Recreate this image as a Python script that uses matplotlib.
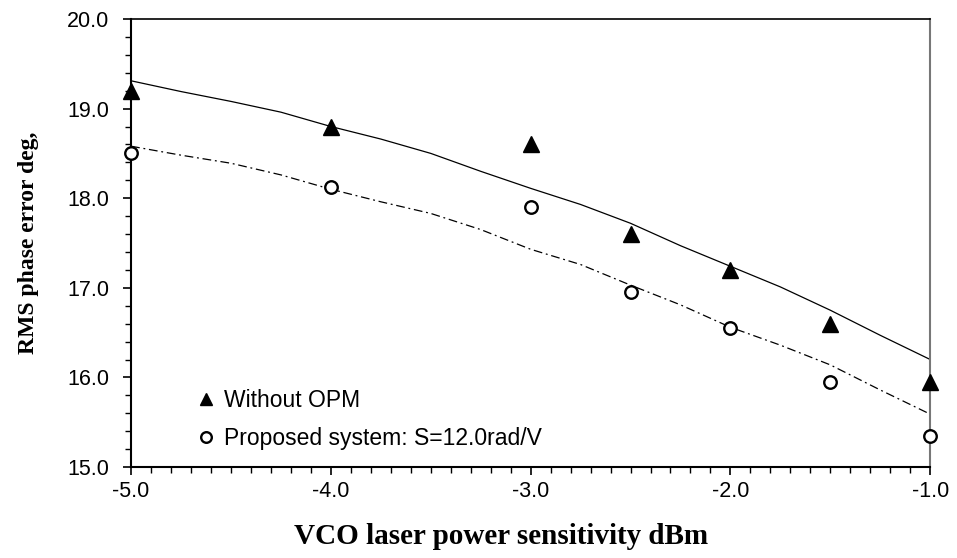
import matplotlib
matplotlib.use("Agg")
import matplotlib.pyplot as plt
from matplotlib.ticker import MultipleLocator, FormatStrFormatter

x_points = [-5.0, -4.0, -3.0, -2.5, -2.0, -1.5, -1.0]
without_opm = [19.2, 18.8, 18.6, 17.6, 17.2, 16.6, 15.95]
proposed = [18.5, 18.12, 17.9, 16.95, 16.55, 15.95, 15.35]

trend_x = [-5.0, -4.75, -4.5, -4.25, -4.0, -3.75, -3.5, -3.25, -3.0,
           -2.75, -2.5, -2.25, -2.0, -1.75, -1.5, -1.25, -1.0]
trend_without = [19.31, 19.19, 19.08, 18.96, 18.80, 18.66, 18.50, 18.30, 18.11,
                 17.93, 17.72, 17.47, 17.24, 17.01, 16.75, 16.47, 16.20]
trend_proposed = [18.58, 18.48, 18.39, 18.26, 18.10, 17.96, 17.83, 17.65, 17.43,
                  17.26, 17.03, 16.81, 16.56, 16.36, 16.14, 15.86, 15.59]

fig = plt.figure(figsize=(9.57, 5.58), dpi=100)
ax = fig.add_axes([0.137, 0.163, 0.835, 0.803])

ax.plot(trend_x, trend_without, color="black", lw=0.9, ls="-")
ax.plot(trend_x, trend_proposed, color="black", lw=0.9, ls=(0, (7, 3, 1.5, 3)))
ax.plot(x_points, without_opm, ls="none", marker="^", ms=11, mfc="black", mec="black",
        label="Without OPM", clip_on=False, zorder=5)
ax.plot(x_points, proposed, ls="none", marker="o", ms=9, mfc="white", mec="black", mew=1.7,
        label="Proposed system: S=12.0rad/V", clip_on=False, zorder=5)

ax.set_xlim(-5.0, -1.0)
ax.set_ylim(15.0, 20.0)
ax.xaxis.set_major_locator(MultipleLocator(1.0))
ax.xaxis.set_minor_locator(MultipleLocator(0.1))
ax.yaxis.set_major_locator(MultipleLocator(1.0))
ax.yaxis.set_minor_locator(MultipleLocator(0.2))
ax.xaxis.set_major_formatter(FormatStrFormatter("%.1f"))
ax.yaxis.set_major_formatter(FormatStrFormatter("%.1f"))

tickfont = "Liberation Sans"
ax.tick_params(axis="both", which="major", labelsize=15.5, direction="out", length=6, width=1.2)
ax.tick_params(axis="both", which="minor", direction="out", length=4, width=1.0)
ax.tick_params(axis="x", pad=4)
ax.tick_params(axis="y", pad=10)
for lab in ax.get_xticklabels() + ax.get_yticklabels():
    lab.set_fontfamily(tickfont)

ax.spines["left"].set_linewidth(1.5)
ax.spines["bottom"].set_linewidth(1.5)
ax.spines["top"].set_linewidth(1.2)
ax.spines["right"].set_color("#777777")
ax.spines["right"].set_linewidth(1.5)

ax.set_xlabel("VCO laser power sensitivity dBm", fontfamily="Liberation Serif",
              fontweight="bold", fontsize=21)
ax.xaxis.set_label_coords(0.4625, -0.125)
ax.set_ylabel("RMS phase error deg,", fontfamily="Liberation Serif",
              fontweight="bold", fontsize=17, labelpad=20)

leg = ax.legend(loc="lower left", bbox_to_anchor=(0.054, -0.008), frameon=False,
                prop={"family": tickfont, "size": 16.5}, handletextpad=0.25,
                handlelength=1.0, labelspacing=0.65, markerscale=0.85)

fig.savefig("out.png", dpi=100)
